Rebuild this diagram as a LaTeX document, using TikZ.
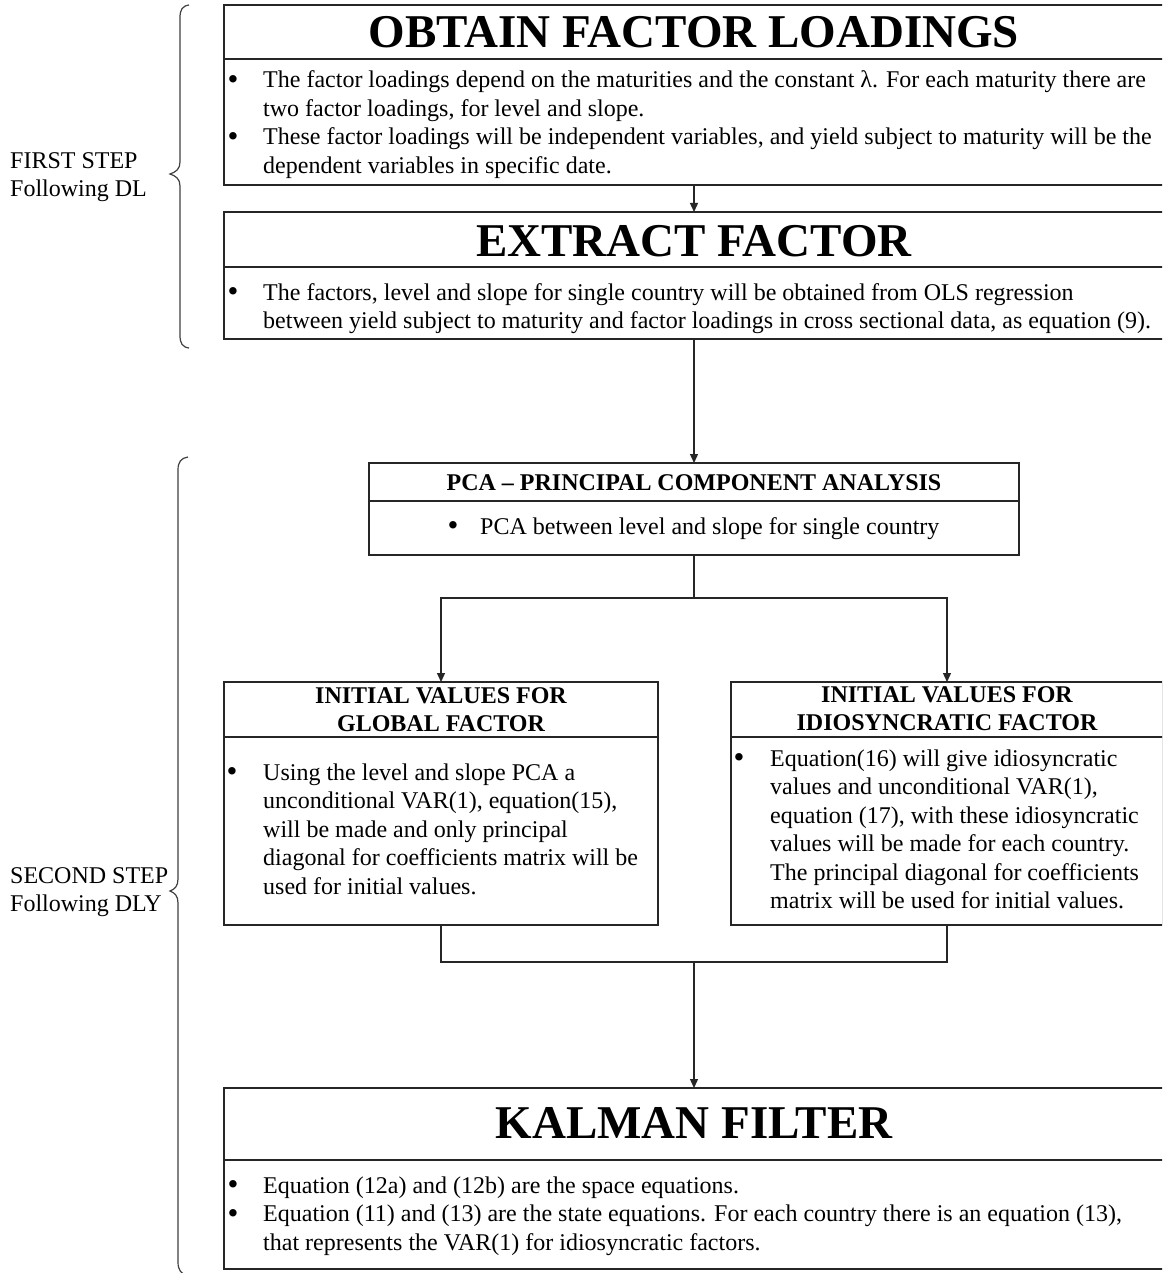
\documentclass[tikz,border=0pt]{standalone}
\usepackage{fontspec}
\setmainfont{Liberation Serif}
\usetikzlibrary{arrows.meta}
\newcommand\bodyf{\fontsize{24}{28.5}\selectfont}
\newcommand\bulf{\fontsize{31}{28.5}\selectfont}
\newcommand\titlef{\fontsize{47}{52}\selectfont\bfseries}
\newcommand\subf{\fontsize{24}{28}\selectfont\bfseries}
\newcommand\bulmark{\raisebox{-1.8pt}{•}}
\begin{document}
\begin{tikzpicture}[x=1pt,y=-1pt,
  stepbox/.style={draw=black!85, line width=1.3pt, anchor=north west, inner sep=0pt, outer sep=0pt},
  divline/.style={draw=black!85, line width=1.3pt},
  conn/.style={draw=black!85, line width=1.3pt},
  arr/.style={conn, -{Triangle[length=9pt,width=8pt]}},
  para/.style={anchor=north west, inner sep=0pt, align=left, font=\bodyf},
  bul/.style={anchor=north, inner sep=0pt, font=\bulf},
  bigtitle/.style={anchor=base, inner sep=0pt, font=\titlef},
  subtitle/.style={anchor=north, inner sep=0pt, align=center, font=\subf},
  stepbrace/.style={draw=black!75, line width=1.2pt},
  steplabel/.style={anchor=north west, inner sep=0pt, align=left, font=\bodyf}]
\useasboundingbox (0,0) rectangle (1162,1273);
\clip (0,0) rectangle (1162,1273);
\fill[white] (0,0) rectangle (1162,1273);

% ---------- boxes ----------
\node[stepbox, minimum width=940pt, minimum height=180pt] (b1) at (224,5) {};
\node[stepbox, minimum width=940pt, minimum height=127pt] (b2) at (224,212) {};
\node[stepbox, minimum width=650pt, minimum height=92pt] (pca) at (369,463) {};
\node[stepbox, minimum width=434pt, minimum height=243pt] (gl) at (224,682) {};
\node[stepbox, minimum width=432pt, minimum height=243pt] (id) at (731,682) {};
\node[stepbox, minimum width=940pt, minimum height=181pt] (kal) at (224,1088) {};

% dividers
\draw[divline] (224,59) -- (1164,59);
\draw[divline] (224,267) -- (1164,267);
\draw[divline] (369,501) -- (1019,501);
\draw[divline] (224,737) -- (658,737);
\draw[divline] (731,737) -- (1163,737);
\draw[divline] (224,1160) -- (1164,1160);

% ---------- titles ----------
\node[bigtitle] (t1) at (694,48) {OBTAIN FACTOR LOADINGS};
\node[bigtitle] (t2) at (694,256) {EXTRACT FACTOR};
\node[bigtitle] (t6) at (694,1138) {KALMAN FILTER};
\node[subtitle] (t3) at (694,470.4) {\strut PCA – PRINCIPAL COMPONENT ANALYSIS};
\node[subtitle] (t4) at (441,683.4) {\strut INITIAL VALUES FOR\\GLOBAL FACTOR};
\node[subtitle] (t5) at (947,682.4) {\strut INITIAL VALUES FOR\\IDIOSYNCRATIC FACTOR};

% ---------- body text ----------
\node[bul] (u1) at (233,67.5) {\strut\bulmark};
\node[para] (p1) at (263,67.5) {\strut The factor loadings depend on the maturities and the constant λ. For each maturity there are\\two factor loadings, for level and slope.};
\node[bul] (u2) at (233,124.5) {\strut\bulmark};
\node[para] (p2) at (263,124.5) {\strut These factor loadings will be independent variables, and yield subject to maturity will be the\\dependent variables in specific date.};
\node[bul] (u3) at (233,280) {\strut\bulmark};
\node[para] (p3) at (263,280) {\strut The factors, level and slope for single country will be obtained from OLS regression\\between yield subject to maturity and factor loadings in cross sectional data, as equation (9).};
\node[bul] (u4) at (453,514) {\strut\bulmark};
\node[para] (p4) at (480,514) {\strut PCA between level and slope for single country};
\node[bul] (u5) at (232,760) {\strut\bulmark};
\node[para] (p5) at (263,760) {\strut Using the level and slope PCA a\\unconditional VAR(1), equation(15),\\will be made and only principal\\diagonal for coefficients matrix will be\\used for initial values.};
\node[bul] (u6) at (739,746) {\strut\bulmark};
\node[para] (p6) at (770,746) {\strut Equation(16) will give idiosyncratic\\values and unconditional VAR(1),\\equation (17), with these idiosyncratic\\values will be made for each country.\\The principal diagonal for coefficients\\matrix will be used for initial values.};
\node[bul] (u7) at (233,1173) {\strut\bulmark};
\node[para] (p7) at (263,1173) {\strut Equation (12a) and (12b) are the space equations.};
\node[bul] (u8) at (233,1201.5) {\strut\bulmark};
\node[para] (p8) at (263,1201.5) {\strut Equation (11) and (13) are the state equations. For each country there is an equation (13),\\that represents the VAR(1) for idiosyncratic factors.};

% ---------- connectors ----------
\draw[arr] (b1.south) -- (b2.north);
\draw[arr] (b2.south) -- (pca.north);
\coordinate (split) at (694,598);
\draw[conn] (pca.south) -- (split);
\draw[arr] (split) -| (gl.north);
\draw[arr] (split) -| (id.north);
\coordinate (join) at (694,962);
\draw[conn] (gl.south) |- (join) -| (id.south);
\draw[arr] (join) -- (kal.north);

% ---------- braces and step labels ----------
\draw[stepbrace] (189,5) .. controls (182,6) and (180,10) .. (180,18) -- (180,162)
  .. controls (180,169) and (176,172) .. (170,174)
  .. controls (176,176) and (180,179) .. (180,186) -- (180,335)
  .. controls (180,343) and (182,347) .. (189,348);
\draw[stepbrace] (188,457) .. controls (181,458) and (178,462) .. (178,470) -- (178,879)
  .. controls (178,886) and (175,889) .. (170,891)
  .. controls (175,893) and (178,896) .. (178,903) -- (178,1262)
  .. controls (178,1270) and (181,1274) .. (188,1276);
\node[steplabel] (s1) at (10,148) {\strut FIRST STEP\\Following DL};
\node[steplabel] (s2) at (10,863) {\strut SECOND STEP\\Following DLY};
\end{tikzpicture}
\end{document}
